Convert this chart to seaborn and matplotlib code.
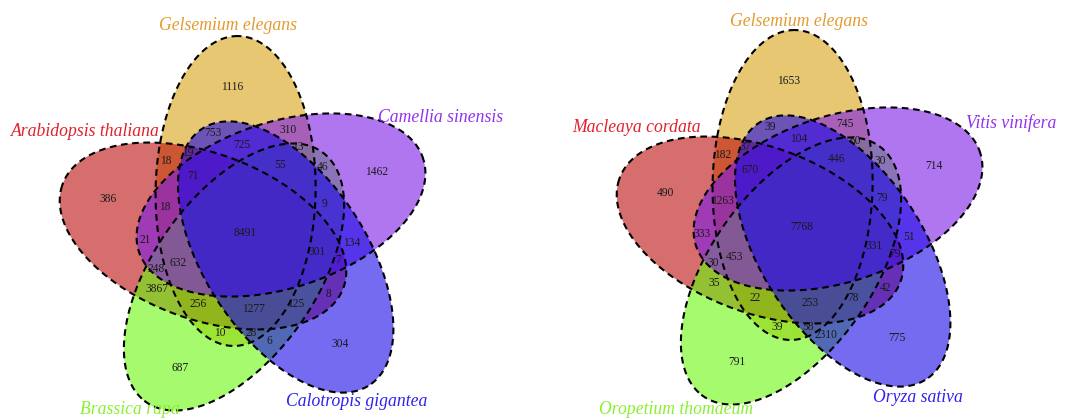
import numpy as np
import matplotlib
matplotlib.use("Agg")
import matplotlib.pyplot as plt
from matplotlib.patches import Polygon
import seaborn as sns

# ---- data -------------------------------------------------------------
# set order: top, right, lower right, lower left, left
left_sets = ["Gelsemium elegans", "Camellia sinensis", "Calotropis gigantea",
             "Brassica rapa", "Arabidopsis thaliana"]
right_sets = ["Gelsemium elegans", "Vitis vinifera", "Oryza sativa",
              "Oropetium thomaeum", "Macleaya cordata"]

# counts per region, same region order in both diagrams
left_counts = [1116, 753, 310, 725, 13, 18, 19, 55, 46, 1462, 71, 386, 18, 9,
               8491, 21, 134, 301, 632, 7, 248, 3867, 8, 256, 1277, 125, 10,
               28, 6, 304, 687]
right_counts = [1653, 39, 745, 104, 60, 182, 37, 446, 30, 714, 670, 490, 1263,
                79, 7768, 333, 51, 331, 453, 79, 30, 35, 42, 22, 253, 78, 39,
                58, 2310, 775, 791]

# ---- layout -----------------------------------------------------------
FILL = ["#D9A316", "#7B1BE6", "#1A08E6", "#69F70D", "#BC0D0D"]
TEXT = ["#E39A2E", "#9230EE", "#3020EE", "#88F02E", "#E0202A"]
DRAW_ORDER = [0, 4, 3, 1, 2]
ALPHA = 0.6

SEMI_MAJOR, SEMI_MINOR, Y_STRETCH = 149, 80, 1.04
# centre x, centre y, axis angle (deg) of each ellipse in the left diagram
ELLIPSES = [(235.6, 191, 89), (281, 205, 17), (285.7, 257, -55),
            (234, 277, -127), (203, 236, 161)]
PANEL_SHIFT = [(0, 0), (557, -6)]

REGION_XY = [(232, 87), (213, 133), (288, 130), (242, 145), (298, 147),
             (166, 161), (188, 153), (280, 165), (323, 167), (377, 172),
             (193, 176), (108, 199), (165, 207), (325, 204), (245, 233),
             (145, 240), (352, 243), (317, 252), (178, 263), (338, 260),
             (156, 269), (157, 289), (328, 294), (198, 304), (253, 309),
             (296, 304), (220, 333), (251, 333), (269, 341), (340, 344),
             (180, 368)]

NAME_XY = [
    [(228, 25), (441, 117), (357, 402), (130, 410), (85, 132)],
    [(799, 21), (1011, 123), (918, 397), (676, 410), (637, 127)],
]


def ellipse_outline(cx, cy, angle, dx, dy):
    t = np.linspace(0, 2 * np.pi, 400)
    th = np.deg2rad(angle)
    u = SEMI_MAJOR * np.cos(t)
    v = SEMI_MINOR * np.sin(t)
    x = cx + dx + u * np.cos(th) - v * np.sin(th)
    y = cy + dy - Y_STRETCH * (u * np.sin(th) + v * np.cos(th))
    return np.column_stack([x, y])


sns.set_theme(style="white")
plt.rcParams["font.family"] = ["Liberation Serif", "DejaVu Serif"]

fig = plt.figure(figsize=(10.7, 4.2), dpi=100)
ax = fig.add_axes([0, 0, 1, 1])
ax.set_xlim(0, 1070)
ax.set_ylim(420, 0)
ax.set_axis_off()

panels = [(left_sets, left_counts), (right_sets, right_counts)]
for p, (names, counts) in enumerate(panels):
    dx, dy = PANEL_SHIFT[p]
    for i in DRAW_ORDER:
        cx, cy, ang = ELLIPSES[i]
        ax.add_patch(Polygon(ellipse_outline(cx, cy, ang, dx, dy), closed=True,
                             facecolor=FILL[i], alpha=ALPHA, edgecolor="none"))
    for i in range(5):
        cx, cy, ang = ELLIPSES[i]
        ax.add_patch(Polygon(ellipse_outline(cx, cy, ang, dx, dy), closed=True,
                             fill=False, edgecolor="black", linewidth=1.5,
                             linestyle=(0, (3.2, 2.2))))
    for (x, y), n in zip(REGION_XY, counts):
        ax.text(x + dx, y + dy, f"{n}", ha="center", va="center",
                fontsize=8.3, color="#1a1a1a")
    for i, name in enumerate(names):
        x, y = NAME_XY[p][i]
        ax.text(x, y, name, ha="center", va="center", fontsize=12.7,
                style="italic", color=TEXT[i])

fig.savefig("out.png", dpi=100)
